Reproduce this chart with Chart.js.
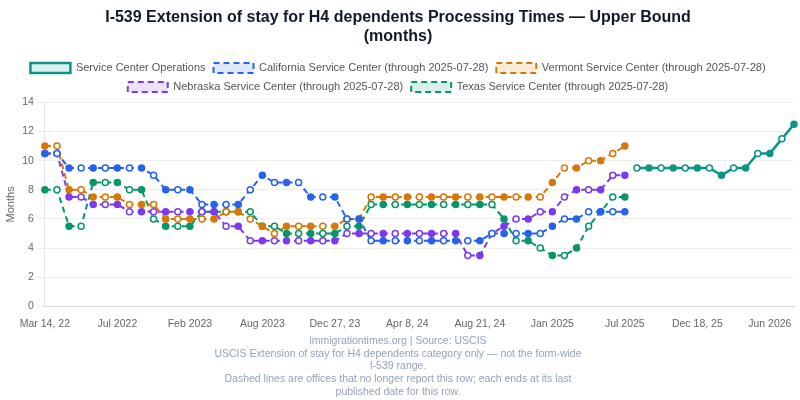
<!DOCTYPE html>
<html>
<head>
<meta charset="utf-8">
<script src="https://cdn.jsdelivr.net/npm/chart.js@4"></script>
<style>
  body { margin: 0; background: #fff; }
  #wrap { width: 800px; height: 400px; }
</style>
</head>
<body>
<div id="wrap"><canvas id="grafico"></canvas></div>
<script>
const labels = [
  'Mar 14, 22', 'Apr 2022', 'Apr 28, 22', 'May 2022', 'May 26, 22', 'Jun 2022',
  'Jul 2022', 'Aug 2022', 'Sep 2022', 'Oct 2022', 'Nov 2022', 'Dec 2022',
  'Feb 2023', 'Mar 2023', 'Mar 29, 23', 'Apr 2023', 'May 2023', 'Jun 2023',
  'Aug 2023', 'Sep 2023', 'Oct 2023', 'Oct 25, 23', 'Nov 2023', 'Dec 2023',
  'Dec 27, 23', 'Jan 2024', 'Feb 2024', 'Feb 28, 24', 'Mar 2024', 'Mar 25, 24',
  'Apr 8, 24', 'May 2024', 'Jun 2024', 'Jun 28, 24', 'Jul 2024', 'Aug 2024',
  'Aug 21, 24', 'Sep 2024', 'Oct 2024', 'Nov 2024', 'Dec 2024', 'Dec 20, 24',
  'Jan 2025', 'Feb 2025', 'Mar 2025', 'Apr 2025', 'May 2025', 'Jun 2025',
  'Jul 2025', 'Aug 2025', 'Sep 2025', 'Oct 2025', 'Nov 2025', 'Dec 2025',
  'Dec 18, 25', 'Jan 2026', 'Feb 2026', 'Mar 2026', 'Apr 2026', 'May 2026',
  'Jun 2026', 'Jul 2026', 'Aug 2026'
];

const N = null;
const operations = [
  N,N,N,N,N,N,N,N,N,N, N,N,N,N,N,N,N,N,N,N, N,N,N,N,N,N,N,N,N,N,
  N,N,N,N,N,N,N,N,N,N, N,N,N,N,N,N,N,N,N,
  9.5, 9.5, 9.5, 9.5, 9.5, 9.5, 9.5, 9, 9.5, 9.5, 10.5, 10.5, 11.5, 12.5
];
const california = [
  10.5, 10.5, 9.5, 9.5, 9.5, 9.5, 9.5, 9.5, 9.5, 9, 8, 8, 8, 7, 7, 7, 7, 8, 9, 8.5,
  8.5, 8.5, 7.5, 7.5, 7.5, 6, 6, 4.5, 4.5, 4.5, 4.5, 4.5, 4.5, 4.5, 4.5, 4.5, 4.5, 5, 5, 5,
  5, 5, 5.5, 6, 6, 6.5, 6.5, 6.5, 6.5
];
const vermont = [
  11, 11, 8, 8, 7.5, 7.5, 7.5, 7, 7, 7, 6, 6, 6, 6, 6, 6.5, 6.5, 6, 5.5, 5,
  5.5, 5.5, 5.5, 5.5, 5.5, 6, 6, 7.5, 7.5, 7.5, 7.5, 7.5, 7.5, 7.5, 7.5, 7.5, 7.5, 7.5, 7.5, 7.5,
  7.5, 7.5, 8.5, 9.5, 9.5, 10, 10, 10.5, 11
];
const nebraska = [
  10.5, 10.5, 7.5, 7.5, 7, 7, 7, 6.5, 6.5, 6.5, 6.5, 6.5, 6.5, 6.5, 6.5, 5.5, 5.5, 4.5, 4.5, 4.5,
  4.5, 4.5, 4.5, 4.5, 4.5, 5, 5, 5, 5, 5, 5, 5, 5, 5, 5, 3.5, 3.5, 5, 5.5, 6,
  6, 6.5, 6.5, 7.5, 8, 8, 8, 9, 9
];
const texas = [
  8, 8, 5.5, 5.5, 8.5, 8.5, 8.5, 8, 8, 6, 5.5, 5.5, 5.5, 6.5, 6.5, 6.5, 6.5, 6.5, 5.5, 5.5,
  5, 5, 5, 5, 5, 5.5, 5.5, 7, 7, 7, 7, 7, 7, 7, 7, 7, 7, 7, 6, 4.5,
  4.5, 4, 3.5, 3.5, 4, 5.5, 6.5, 7.5, 7.5
];

const footer = [
  'immigrationtimes.org | Source: USCIS',
  'USCIS Extension of stay for H4 dependents category only \u2014 not the form-wide',
  'I-539 range.',
  'Dashed lines are offices that no longer report this row; each ends at its last',
  'published date for this row.'
];

const FONT = 'Liberation Sans, Arial, sans-serif';

const makeSet = (label, data, color, fill, dashed) => ({
  label: label,
  data: data,
  borderColor: color,
  backgroundColor: fill,
  borderWidth: dashed ? 2 : 2.5,
  borderDash: dashed ? [6, 4] : [],
  pointRadius: 3,
  pointBorderWidth: 1.5,
  pointBorderColor: color,
  pointBackgroundColor: (c) => (c.dataIndex % 2 === 0 ? color : '#ffffff'),
  tension: 0,
  spanGaps: false
});

new Chart(document.getElementById('grafico').getContext('2d'), {
  type: 'line',
  data: {
    labels: labels,
    datasets: [
      makeSet('Service Center Operations', operations, '#0d9488', 'rgba(13,148,136,0.15)', false),
      makeSet('California Service Center (through 2025-07-28)', california, '#2563eb', 'rgba(37,99,235,0.15)', true),
      makeSet('Vermont Service Center (through 2025-07-28)', vermont, '#d97706', 'rgba(217,119,6,0.15)', true),
      makeSet('Nebraska Service Center (through 2025-07-28)', nebraska, '#7c3aed', 'rgba(124,58,237,0.15)', true),
      makeSet('Texas Service Center (through 2025-07-28)', texas, '#059669', 'rgba(5,150,105,0.15)', true)
    ]
  },
  options: {
    responsive: true,
    maintainAspectRatio: false,
    animation: false,
    layout: { padding: { left: 2, right: 6, bottom: 2 } },
    plugins: {
      title: {
        display: true,
        text: ['I-539 Extension of stay for H4 dependents Processing Times \u2014 Upper Bound', '(months)'],
        color: '#111827',
        font: { family: FONT, size: 16, weight: 'bold' },
        padding: { top: 8, bottom: 8 }
      },
      subtitle: {
        display: true,
        position: 'bottom',
        text: footer,
        color: '#94a3b8',
        font: { family: FONT, size: 10.5 },
        padding: { top: 2, bottom: 0 }
      },
      legend: {
        labels: {
          color: '#555',
          boxWidth: 40,
          boxHeight: 10,
          padding: 8,
          font: { family: FONT, size: 11 }
        }
      }
    },
    scales: {
      x: {
        grid: { display: false },
        ticks: {
          autoSkip: false,
          maxRotation: 0,
          color: '#666',
          font: { family: FONT, size: 10.5 },
          callback: function (value, index) {
            return index % 6 === 0 ? labels[index] : '';
          }
        }
      },
      y: {
        min: 0,
        max: 14,
        ticks: { stepSize: 2, color: '#666', font: { family: FONT, size: 10.5 } },
        grid: { color: '#eeeeee' },
        title: { display: true, text: 'Months', color: '#666', font: { family: FONT, size: 11 }, padding: 2 }
      }
    }
  }
});
</script>
</body>
</html>
